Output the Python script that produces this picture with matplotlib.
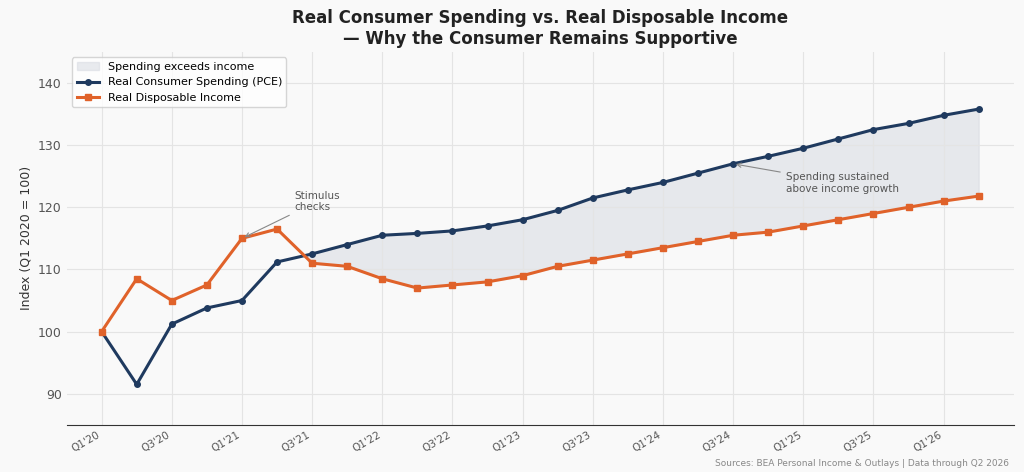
import numpy as np
import matplotlib.pyplot as plt

quarters = ["Q1'20", "Q2'20", "Q3'20", "Q4'20", "Q1'21", "Q2'21", "Q3'21", "Q4'21",
            "Q1'22", "Q2'22", "Q3'22", "Q4'22", "Q1'23", "Q2'23", "Q3'23", "Q4'23",
            "Q1'24", "Q2'24", "Q3'24", "Q4'24", "Q1'25", "Q2'25", "Q3'25", "Q4'25",
            "Q1'26", "Q2'26"]
pce = [100, 91.5, 101.2, 103.8, 105, 111.2, 112.5, 114, 115.5, 115.8, 116.2, 117, 118,
       119.5, 121.5, 122.8, 124, 125.5, 127, 128.2, 129.5, 131, 132.5, 133.5, 134.8, 135.8]
income = [100, 108.5, 105, 107.5, 115, 116.5, 111, 110.5, 108.5, 107, 107.5, 108, 109,
          110.5, 111.5, 112.5, 113.5, 114.5, 115.5, 116, 117, 118, 119, 120, 121, 121.8]

x = np.arange(len(quarters))
pce_a = np.array(pce)
inc_a = np.array(income)

fig, ax = plt.subplots(figsize=(10.24, 4.72), dpi=100)
fig.patch.set_facecolor('#f9f9f9')
ax.set_facecolor('#f9f9f9')

ax.fill_between(x, pce_a, inc_a, where=pce_a > inc_a, interpolate=True,
                color='#d5d8e0', alpha=0.5, label='Spending exceeds income')
ax.plot(x, pce, color='#1f3a5f', lw=2.2, marker='o', ms=4, label='Real Consumer Spending (PCE)', zorder=3)
ax.plot(x, income, color='#e0622a', lw=2.2, marker='s', ms=4, label='Real Disposable Income', zorder=3)

ax.annotate('Stimulus\nchecks', xy=(4, 115), xytext=(5.5, 119.5), fontsize=7.5, color='#555555',
            arrowprops=dict(arrowstyle='->', color='#888888', lw=0.8))
ax.annotate('Spending sustained\nabove income growth', xy=(18, 127), xytext=(19.5, 122.5),
            fontsize=7.5, color='#555555',
            arrowprops=dict(arrowstyle='->', color='#888888', lw=0.8))

ax.set_xticks(x[::2])
ax.set_xticklabels(quarters[::2], rotation=30, ha='right', fontsize=7.5, color='#555555')
ax.set_xlim(-1, 26)
ax.set_ylim(85, 145)
ax.set_yticks([90, 100, 110, 120, 130, 140])
ax.tick_params(axis='y', labelsize=9, colors='#555555', length=0)
ax.tick_params(axis='x', length=0)
ax.set_ylabel('Index (Q1 2020 = 100)', fontsize=9, color='#333333')
ax.grid(True, color='#e4e4e4', lw=0.8)
for s in ['top', 'right', 'left']:
    ax.spines[s].set_visible(False)
ax.spines['bottom'].set_color('#333333')

ax.set_title('Real Consumer Spending vs. Real Disposable Income\n— Why the Consumer Remains Supportive',
             fontsize=12, fontweight='bold', color='#222222')
leg = ax.legend(loc='upper left', fontsize=8, frameon=True, facecolor='white', edgecolor='#cccccc')
fig.text(0.985, 0.012, 'Sources: BEA Personal Income & Outlays | Data through Q2 2026',
         ha='right', fontsize=6.5, color='#888888')

plt.subplots_adjust(left=0.065, right=0.99, top=0.89, bottom=0.1)
plt.savefig('out.png', dpi=100, facecolor=fig.get_facecolor())
